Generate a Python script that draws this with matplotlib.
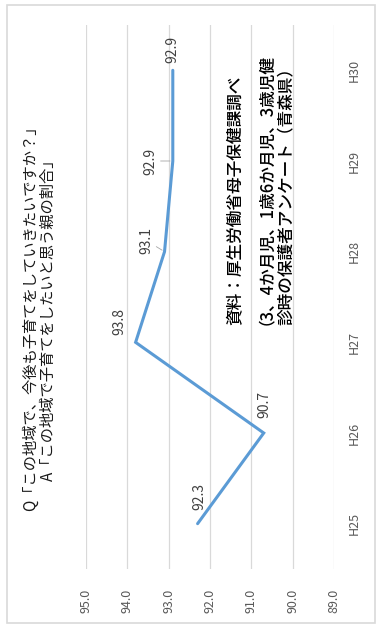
import matplotlib
matplotlib.use('Agg')
import matplotlib.pyplot as plt
from matplotlib.patches import Rectangle

plt.rcParams['font.family'] = ['Noto Sans CJK JP', 'DejaVu Sans']

# data (chart is drawn turned 90 degrees, like the source image)
years = ['H25', 'H26', 'H27', 'H28', 'H29', 'H30']
values = [92.3, 90.7, 93.8, 93.1, 92.9, 92.9]
value_ticks = [95.0, 94.0, 93.0, 92.0, 91.0, 90.0, 89.0]

title_lines = ['Q「この地域で、今後も子育てをしていきたいですか？」',
               'A「この地域で子育てをしたいと思う親の割合」']
source_lines = ['資料：厚生労働省母子保健課調べ',
                '（3、4か月児、1歳6か月児、3歳児健',
                '診時の保護者アンケート（青森県）']

# label offsets in pixels, (right, up)
label_offsets = [(2, 27), (1, 28), (-16, 21), (-18, 11), (-22, 0), (0, 21)]
leader = [False, False, False, True, True, False]

W, H = 388, 629
fig = plt.figure(figsize=(W / 100, H / 100), dpi=100)

# outer frame
fig.patches.append(Rectangle((7 / W, 1 - 623 / H), 368 / W, 618 / H,
                             transform=fig.transFigure, fill=False,
                             edgecolor='#d9d9d9', lw=1.2))

ax = fig.add_axes([86 / W, 1 - 569 / H, 248 / W, 544 / H])
pos = list(range(len(years)))
ax.plot(values, pos, color='#5b9bd5', lw=2.2, solid_capstyle='round',
        solid_joinstyle='miter', zorder=3)

for v, p, off, ld in zip(values, pos, label_offsets, leader):
    arrow = None
    if ld:
        arrow = dict(arrowstyle='-', color='#a6a6a6', lw=0.6,
                     shrinkA=0, shrinkB=2)
    ax.annotate(f'{v:.1f}', (v, p), xytext=off, textcoords='offset pixels',
                rotation=90, ha='center', va='center', fontsize=10,
                color='#404040', arrowprops=arrow, zorder=4)

ax.set_xlim(95, 89)
ax.set_ylim(-0.5, len(years) - 0.5)
ax.set_xticks(value_ticks)
ax.set_xticklabels([f'{t:.1f}' for t in value_ticks], rotation=90,
                   fontsize=9, color='#595959')
ax.set_yticks(pos)
ax.set_yticklabels(years, rotation=90, fontsize=9, color='#595959',
                   va='center')
ax.yaxis.tick_right()
ax.tick_params(axis='x', length=0, pad=14)
ax.tick_params(axis='y', length=0, pad=10)
ax.grid(axis='x', color='#d9d9d9', lw=0.9)
ax.set_axisbelow(True)
for s in ax.spines.values():
    s.set_visible(False)

# title (two lines, turned)
fig.text(30 / W, 1 - 315 / H, title_lines[0], rotation=90, ha='center',
         va='center', fontsize=11, color='#1a1a1a')
fig.text(48 / W, 1 - 316 / H, title_lines[1], rotation=90, ha='center',
         va='center', fontsize=11, color='#1a1a1a')

# source note, anchored at the baseline start of each line
for x, line in zip([239, 262, 291], source_lines):
    fig.text(x / W, 1 - 325 / H, line, rotation=90, rotation_mode='anchor',
             ha='left', va='baseline', fontsize=12, fontweight='medium',
             color='#000000')

fig.savefig('out.png', dpi=100, facecolor='white')
